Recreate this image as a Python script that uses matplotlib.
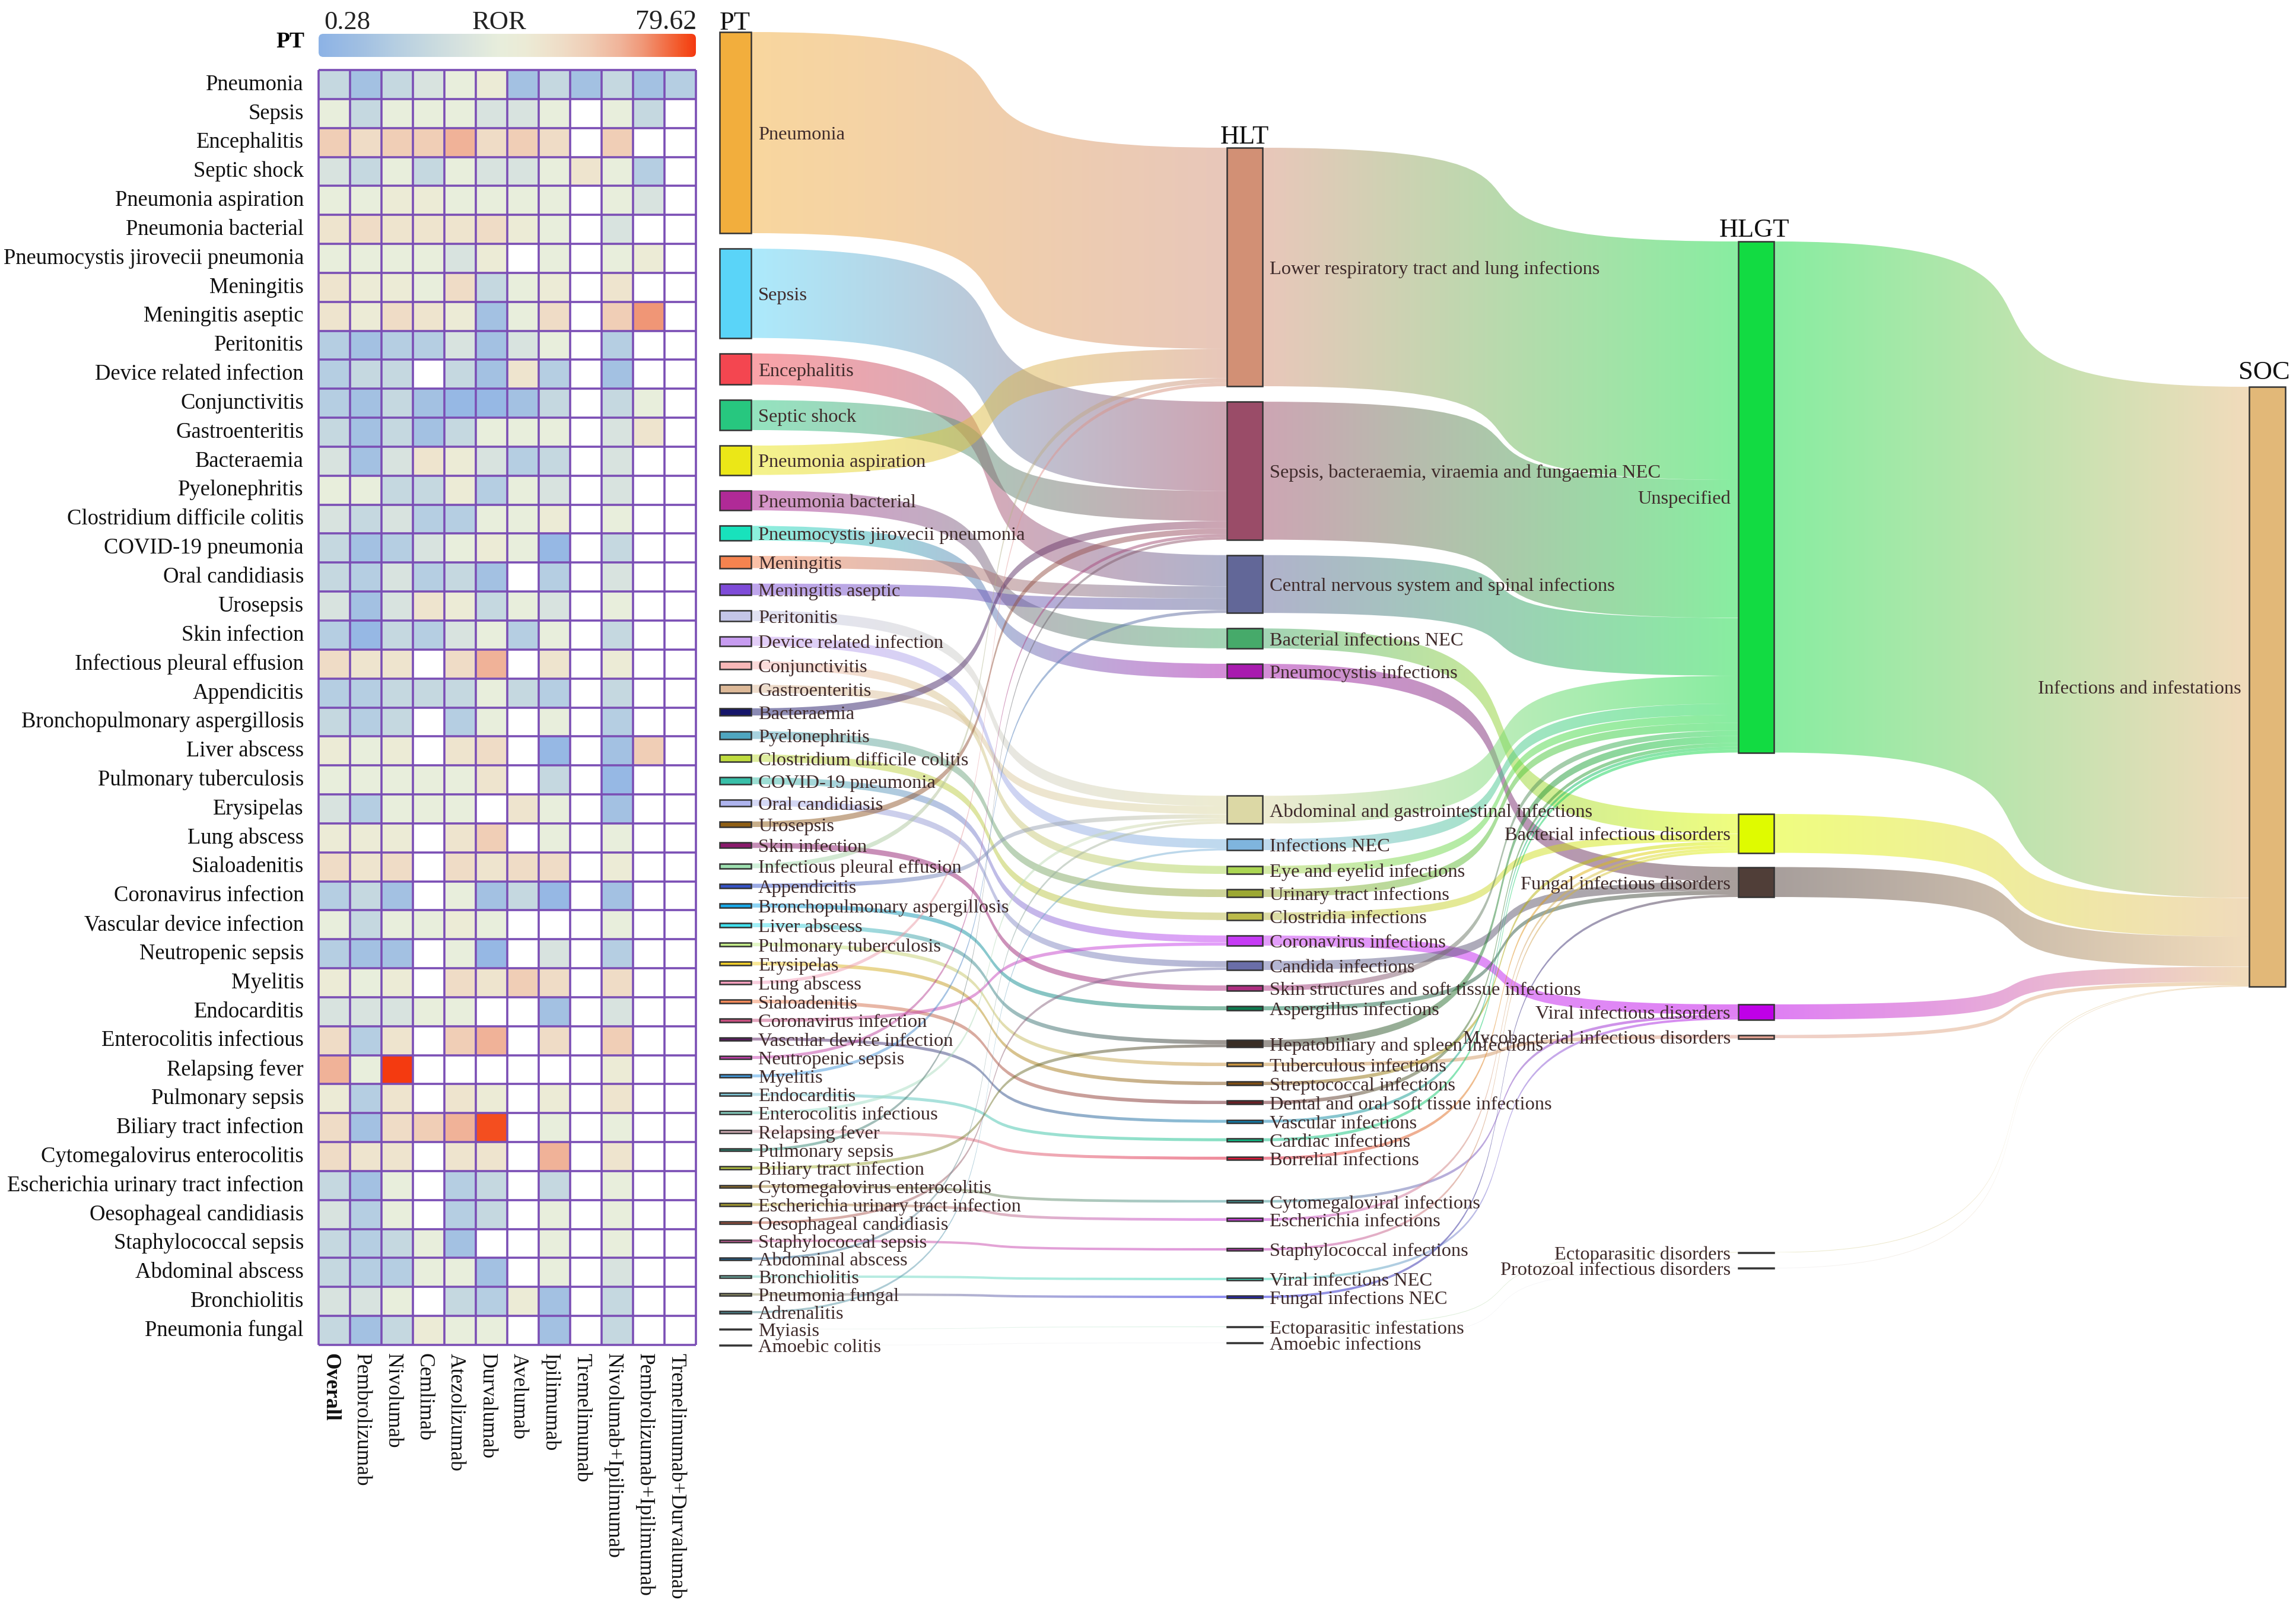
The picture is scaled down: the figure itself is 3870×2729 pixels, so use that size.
import numpy as np
import matplotlib
matplotlib.use("Agg")
import matplotlib.pyplot as plt
from matplotlib.colors import LinearSegmentedColormap, LogNorm, to_rgb
from matplotlib.path import Path
from matplotlib.patches import PathPatch, Rectangle, FancyBboxPatch
from matplotlib.transforms import ScaledTranslation

plt.rcParams['font.family'] = ['Liberation Serif', 'DejaVu Serif']

N = np.nan
W, H = 3870, 2729

drugs = ["Overall", "Pembrolizumab", "Nivolumab", "Cemlimab", "Atezolizumab", "Durvalumab", "Avelumab",
         "Ipilimumab", "Tremelimumab", "Nivolumab+Ipilimumab", "Pembrolizumab+Ipilimumab", "Tremelimumab+Durvalumab"]

pt_names = ["Pneumonia", "Sepsis", "Encephalitis", "Septic shock", "Pneumonia aspiration", "Pneumonia bacterial",
            "Pneumocystis jirovecii pneumonia", "Meningitis", "Meningitis aseptic", "Peritonitis",
            "Device related infection", "Conjunctivitis", "Gastroenteritis", "Bacteraemia", "Pyelonephritis",
            "Clostridium difficile colitis", "COVID-19 pneumonia", "Oral candidiasis", "Urosepsis", "Skin infection",
            "Infectious pleural effusion", "Appendicitis", "Bronchopulmonary aspergillosis", "Liver abscess",
            "Pulmonary tuberculosis", "Erysipelas", "Lung abscess", "Sialoadenitis", "Coronavirus infection",
            "Vascular device infection", "Neutropenic sepsis", "Myelitis", "Endocarditis", "Enterocolitis infectious",
            "Relapsing fever", "Pulmonary sepsis", "Biliary tract infection", "Cytomegalovirus enterocolitis",
            "Escherichia urinary tract infection", "Oesophageal candidiasis", "Staphylococcal sepsis",
            "Abdominal abscess", "Bronchiolitis", "Pneumonia fungal", "Adrenalitis", "Myiasis", "Amoebic colitis"]

# ROR by PT (rows) and regimen (columns), nan = no signal
heat_rows = pt_names[:44]
ror = [
    [1.4, .55, 1.4, 2.4, 4.2, 6.3, .55, 1.4, .55, 1.4, .55, .87],
    [4.2, 1.4, 4.2, 4.2, 4.2, 2.4, 2.4, 4.2, N, 4.2, 1.4, N],
    [16, 11, 16, 16, 26, 11, 16, 11, N, 16, N, N],
    [2.4, 1.4, 4.2, 1.4, 4.2, 2.4, 2.4, 4.2, 8.3, 4.2, .87, N],
    [4.2, 4.2, 6.3, 6.3, 4.2, 4.2, 4.2, 4.2, N, 4.2, 2.4, N],
    [8.3, 11, 8.3, 8.3, 8.3, 11, 6.3, 4.2, N, 2.4, N, N],
    [4.2, 4.2, 4.2, 4.2, 2.4, 6.3, N, 4.2, N, 4.2, 6.3, N],
    [8.3, 6.3, 6.3, 4.2, 11, 1.4, 4.2, 6.3, N, 8.3, N, N],
    [8.3, 6.3, 11, 8.3, 6.3, .55, 4.2, 11, N, 16, 36, N],
    [.87, .55, .87, .87, 2.4, .55, 2.4, 4.2, N, .87, N, N],
    [.87, 1.4, 1.4, N, 1.4, .55, 8.3, .87, N, .55, N, N],
    [.87, .55, 1.4, .55, .37, .37, .55, 1.4, N, 1.4, 4.2, N],
    [1.4, .55, 1.4, .55, 1.4, 4.2, 4.2, 4.2, N, 2.4, 8.3, N],
    [2.4, .55, 2.4, 8.3, 6.3, 2.4, .87, 1.4, N, 2.4, N, N],
    [4.2, 4.2, 1.4, 1.4, 6.3, .87, 4.2, 2.4, N, 2.4, N, N],
    [2.4, 1.4, 2.4, .87, .87, 4.2, 4.2, 6.3, N, 4.2, N, N],
    [1.4, .55, .87, 2.4, 4.2, 6.3, 4.2, .37, N, 1.4, N, N],
    [1.4, .87, 2.4, .87, 1.4, .55, N, .87, N, 2.4, N, N],
    [2.4, .55, 2.4, 8.3, 6.3, 1.4, 4.2, 2.4, N, 4.2, N, N],
    [.87, .37, 1.4, .87, 2.4, 4.2, .87, 4.2, N, 1.4, N, N],
    [11, 8.3, 8.3, N, 11, 26, N, 8.3, N, 6.3, N, N],
    [.87, .87, 1.4, 1.4, 1.4, 4.2, 1.4, .87, N, 1.4, N, N],
    [1.4, .87, 1.4, N, .87, 4.2, N, 4.2, N, .87, N, N],
    [6.3, 4.2, 6.3, N, 8.3, 11, N, .37, N, .55, 16, N],
    [4.2, 4.2, 4.2, 4.2, 4.2, 8.3, N, 1.4, N, .37, N, N],
    [2.4, .87, 4.2, 4.2, 4.2, N, 8.3, 4.2, N, .55, N, N],
    [6.3, 6.3, 6.3, N, 8.3, 16, N, 4.2, N, 4.2, N, N],
    [11, 8.3, 11, N, 11, 8.3, 11, 11, N, 6.3, N, N],
    [.87, 1.4, .55, N, 4.2, .55, 1.4, .37, N, .55, N, N],
    [4.2, 1.4, 4.2, 4.2, 6.3, 4.2, N, N, N, 4.2, N, N],
    [.87, .55, .55, N, 4.2, .37, N, 2.4, N, .87, N, N],
    [6.3, 4.2, 6.3, N, 11, 8.3, 16, 11, N, 11, N, N],
    [2.4, 2.4, 2.4, 4.2, 4.2, N, N, .55, N, 2.4, N, N],
    [11, .87, 8.3, N, 16, 26, N, 11, N, 16, N, N],
    [26, 4.2, 80, N, N, N, N, N, N, 6.3, N, N],
    [6.3, .87, 8.3, N, 8.3, 6.3, N, 6.3, N, 8.3, N, N],
    [11, .55, 11, 16, 26, 68, N, 4.2, N, 4.2, N, N],
    [11, 8.3, 8.3, N, 8.3, 8.3, N, 26, N, 8.3, N, N],
    [1.4, .55, 4.2, N, .87, 1.4, N, 1.4, N, 4.2, N, N],
    [2.4, .87, 4.2, N, .87, 1.4, N, 4.2, N, 4.2, N, N],
    [1.4, .87, 1.4, 4.2, .55, N, N, 4.2, N, 4.2, N, N],
    [1.4, .87, .87, 4.2, 4.2, .55, N, 4.2, N, 2.4, N, N],
    [2.4, 2.4, 4.2, N, 1.4, .87, 6.3, .55, N, 1.4, N, N],
    [1.4, .55, 1.4, 6.3, 4.2, 4.2, N, .55, N, 1.4, N, N],
]

# case weight of every PT, and the term it rolls up into
pt_cases = [339, 150.5, 52.5, 50.5, 49.5, 33.5, 24.5, 20.5, 19.5, 17.5, 15.5, 13.5, 13.5, 12.5, 13, 12.5, 11.5, 10.5,
            9.5, 9, 8, 7, 7, 7, 6, 6, 5.5, 6, 5.5, 5, 5, 5, 5, 5, 5, 4.5, 5, 4.5, 4.5, 4.5, 4, 4, 4, 4, 3.5, 1, 1]
pt_to_hlt = [0, 1, 2, 1, 0, 3, 4, 2, 2, 5, 6, 7, 5, 1, 8, 9, 10, 11, 1, 12, 0, 5, 13, 14, 15, 16, 0, 17, 10, 18, 1, 2,
             19, 5, 20, 1, 14, 21, 22, 11, 23, 5, 24, 25, 6, 26, 27]

hlt_names = ["Lower respiratory tract and lung infections", "Sepsis, bacteraemia, viraemia and fungaemia NEC",
             "Central nervous system and spinal infections", "Bacterial infections NEC", "Pneumocystis infections",
             "Abdominal and gastrointestinal infections", "Infections NEC", "Eye and eyelid infections",
             "Urinary tract infections", "Clostridia infections", "Coronavirus infections", "Candida infections",
             "Skin structures and soft tissue infections", "Aspergillus infections", "Hepatobiliary and spleen infections",
             "Tuberculous infections", "Streptococcal infections", "Dental and oral soft tissue infections",
             "Vascular infections", "Cardiac infections", "Borrelial infections", "Cytomegaloviral infections",
             "Escherichia infections", "Staphylococcal infections", "Viral infections NEC", "Fungal infections NEC",
             "Ectoparasitic infestations", "Amoebic infections"]
hlt_to_hlgt = [0, 0, 0, 1, 2, 0, 0, 0, 0, 1, 3, 2, 0, 2, 0, 4, 1, 0, 0, 0, 1, 3, 1, 1, 3, 2, 5, 6]

hlgt_names = ["Unspecified", "Bacterial infectious disorders", "Fungal infectious disorders", "Viral infectious disorders",
              "Mycobacterial infectious disorders", "Ectoparasitic disorders", "Protozoal infectious disorders"]
soc_names = ["Infections and infestations"]

pt_colors = ["#F2AE3D", "#5AD4F8", "#F44650", "#27C77F", "#EBE717", "#B02A97", "#18E2BC", "#F5834F", "#7E4BD8", "#C4C6E8",
             "#C79CF0", "#F8B8B8", "#DDB998", "#15156A", "#4FA6C0", "#BFDC3F", "#38BFA8", "#AEB4EE", "#8F5F15", "#8A1A6C",
             "#9DE0B0", "#3553C8", "#18A8E8", "#40E0EE", "#C5EE8A", "#F2CF2A", "#F59FBE", "#F58A5A", "#C84F7F", "#5A1A60",
             "#C840B0", "#40A0E8", "#7FC8D8", "#8FE0D0", "#E0B8C0", "#2A8F78", "#B8C840", "#A07A28", "#B0A530", "#C05A40",
             "#D060A0", "#206090", "#80D8C8", "#A0A070", "#4F8F98", "#F0F2F0", "#F0F0F2"]
hlt_colors = ["#D29075", "#9A4C68", "#626798", "#46AA6A", "#A81BAF", "#DCD8A5", "#7FB5DE", "#ABD653", "#9CA833", "#BBBA4B",
              "#C63BF5", "#6A6EA8", "#AD2E80", "#0E7A4F", "#3A2E25", "#C89440", "#7F4F14", "#6A1F25", "#1080B0", "#10C088",
              "#E01838", "#409898", "#C838D8", "#C030B8", "#40D8B8", "#2020E0", "#A8E0C0", "#ECECF0"]
hlgt_colors = ["#12DB42", "#DFFB00", "#503E38", "#BF00E8", "#E0A090", "#D8D8A0", "#ECECF0"]
soc_colors = ["#E2B878"]

# vertical spacing of the columns, in pixels
pt_top, pt_gap = 54, 26.15
hlt_top, hlt_gap = 249, {4: 198, 13: 50, 20: 68, 22: 46, 23: 46, 25: 48}
hlgt_top, hlgt_gaps = 407, [103.5, 24, 181, 26, 360, 25.5]
soc_top = 652
default_gap = 26.1


def fig_axes(fig, x0, y0, x1, y1):
    return fig.add_axes([x0 / W, 1 - y1 / H, (x1 - x0) / W, (y1 - y0) / H])


def shift_labels(fig, labels, dx, dy):
    # dx, dy in pixels, dy positive goes down
    offset = ScaledTranslation(dx / fig.dpi, -dy / fig.dpi, fig.dpi_scale_trans)
    for label in labels:
        label.set_transform(label.get_transform() + offset)


def draw_heatmap(fig, cmap, norm):
    ax = fig_axes(fig, 537, 118, 1173, 2267)
    values = np.ma.masked_invalid(np.array(ror, dtype=float))
    ax.pcolormesh(np.arange(13), np.arange(45), values, cmap=cmap, norm=norm)
    ax.set_xlim(0, 12)
    ax.set_ylim(44, 0)
    ax.hlines(np.arange(45), 0, 12, color="#7B4FB5", lw=2.6, clip_on=False)
    ax.vlines(np.arange(13), 0, 44, color="#7B4FB5", lw=2.6, clip_on=False)
    for s in ax.spines.values():
        s.set_visible(False)
    ax.set_yticks(np.arange(44) + .5, heat_rows, fontsize=26.4, color="#111111")
    ax.set_xticks(np.arange(12) + .5, drugs, fontsize=25.6, rotation=-90, color="#111111")
    ax.tick_params(axis="y", length=0, pad=18)
    ax.tick_params(axis="x", length=0, pad=10)
    ax.get_xticklabels()[0].set_fontweight("bold")
    shift_labels(fig, ax.get_yticklabels(), 0, -4)
    shift_labels(fig, ax.get_xticklabels(), -7, 0)

    cax = fig_axes(fig, 537, 57, 1173, 96)
    grad = np.linspace(0, 1, 512).reshape(1, -1)
    im = cax.imshow(grad, cmap=cmap, aspect="auto", extent=[0, 636, 39, 0])
    box = FancyBboxPatch((4, 4), 628, 31, boxstyle="round,pad=4,rounding_size=8", transform=cax.transData, fc="none", ec="none")
    cax.add_patch(box)
    im.set_clip_path(box)
    cax.axis("off")
    fig.text(585 / W, 1 - 38 / H, "0.28", fontsize=32, ha="center", va="center", color="#222222")
    fig.text(842 / W, 1 - 38 / H, "ROR", fontsize=32, ha="center", va="center", color="#222222")
    fig.text(1123 / W, 1 - 38 / H, "79.62", fontsize=33, ha="center", va="center", color="#222222")
    fig.text(513 / W, 1 - 70 / H, "PT", fontsize=27, ha="right", va="center", fontweight="bold")


def ribbon(ax, x0, x1, y0, y1, h, c0, c1, alpha=.5, bend=.85):
    w = x1 - x0
    verts = [(x0, y0), (x0 + bend * w, y0), (x1 - bend * w, y1), (x1, y1), (x1, y1 + h),
             (x1 - bend * w, y1 + h), (x0 + bend * w, y0 + h), (x0, y0 + h), (x0, y0)]
    codes = [Path.MOVETO, Path.CURVE4, Path.CURVE4, Path.CURVE4, Path.LINETO,
             Path.CURVE4, Path.CURVE4, Path.CURVE4, Path.CLOSEPOLY]
    patch = PathPatch(Path(verts, codes), fc="none", ec="none", transform=ax.transData)
    ax.add_patch(patch)
    t = np.linspace(0, 1, 48)[:, None]
    rgb = (1 - t) * np.array(to_rgb(c0)) + t * np.array(to_rgb(c1))
    rgba = np.dstack([rgb[None, :, :], np.full((1, 48), alpha)])
    top, bottom = min(y0, y1), max(y0, y1) + h
    im = ax.imshow(rgba, extent=[x0, x1, bottom, top], aspect="auto", interpolation="bilinear", zorder=1)
    im.set_clip_path(patch)


def stack_tops(sizes, start, gaps):
    tops = []
    y = start
    for i, s in enumerate(sizes):
        tops.append(y)
        y += s + gaps[i]
    return tops


def draw_column(ax, names, sizes, tops, colors, x0, x1, label_side):
    for name, s, y, c in zip(names, sizes, tops, colors):
        ax.add_patch(Rectangle((x0, y), x1 - x0, s, fc=c, ec="#333333", lw=1.8, zorder=3))
        # labels sit a little under the node centre
        if label_side == "right":
            ax.text(x1 + 12, y + s / 2 + 4, name, fontsize=23.4, color="#3F2B2B", va="center", ha="left", zorder=4)
        else:
            ax.text(x0 - 13, y + s / 2 + 4, name, fontsize=23.4, color="#3F2B2B", va="center", ha="right", zorder=4)


def draw_flows(ax, sizes, tops, colors, x0, x1, targets, t_tops, t_colors):
    filled = [0.0] * len(t_tops)
    for i, s in enumerate(sizes):
        t = targets[i]
        ribbon(ax, x0, x1, tops[i], t_tops[t] + filled[t], s, colors[i], t_colors[t])
        filled[t] += s


def draw_sankey(fig):
    ax = fig.add_axes([0, 0, 1, 1])
    ax.patch.set_alpha(0)

    hlt_sizes = [sum(c for c, t in zip(pt_cases, pt_to_hlt) if t == k) for k in range(len(hlt_names))]
    hlgt_sizes = [sum(c for c, t in zip(hlt_sizes, hlt_to_hlgt) if t == k) for k in range(len(hlgt_names))]
    soc_sizes = [sum(hlgt_sizes)]

    pt_tops = stack_tops(pt_cases, pt_top, [pt_gap] * len(pt_cases))
    hlt_tops = stack_tops(hlt_sizes, hlt_top, [hlt_gap.get(i, default_gap) for i in range(len(hlt_sizes))])
    hlgt_tops = stack_tops(hlgt_sizes, hlgt_top, hlgt_gaps + [0])

    pt_x, hlt_x, hlgt_x, soc_x = (1213, 1266), (2068, 2128), (2930, 2990), (3791, 3852)
    draw_flows(ax, pt_cases, pt_tops, pt_colors, pt_x[1], hlt_x[0], pt_to_hlt, hlt_tops, hlt_colors)
    draw_flows(ax, hlt_sizes, hlt_tops, hlt_colors, hlt_x[1], hlgt_x[0], hlt_to_hlgt, hlgt_tops, hlgt_colors)
    draw_flows(ax, hlgt_sizes, hlgt_tops, hlgt_colors, hlgt_x[1], soc_x[0], [0] * 7, [soc_top], soc_colors)

    draw_column(ax, pt_names, pt_cases, pt_tops, pt_colors, pt_x[0], pt_x[1], "right")
    draw_column(ax, hlt_names, hlt_sizes, hlt_tops, hlt_colors, hlt_x[0], hlt_x[1], "right")
    draw_column(ax, hlgt_names, hlgt_sizes, hlgt_tops, hlgt_colors, hlgt_x[0], hlgt_x[1], "left")
    draw_column(ax, soc_names, soc_sizes, [soc_top], soc_colors, soc_x[0], soc_x[1], "left")

    for label, x, y in [("PT", 1239, 39), ("HLT", 2098, 231), ("HLGT", 2957, 388), ("SOC", 3816, 628)]:
        ax.text(x, y, label, fontsize=32, ha="center", va="center", color="#111111", zorder=4)

    ax.set_xlim(0, W)
    ax.set_ylim(H, 0)
    ax.axis("off")


def main():
    fig = plt.figure(figsize=(W / 100, H / 100), dpi=100, facecolor="white")
    stops = [(0, "#8DB3E6"), (.12, "#A3C1E2"), (.2, "#B5CEE2"), (.28, "#C5D8E0"), (.38, "#D8E3DF"), (.48, "#E8EEDC"),
             (.55, "#ECEBD6"), (.6, "#EEE4CE"), (.65, "#EFDCC6"), (.72, "#F0CDB5"), (.8, "#F0B49A"), (.86, "#F09878"),
             (.97, "#F45020"), (1, "#F43A10")]
    cmap = LinearSegmentedColormap.from_list("ror", stops)
    norm = LogNorm(vmin=.28, vmax=79.62)
    draw_sankey(fig)
    draw_heatmap(fig, cmap, norm)
    fig.savefig("out.png", dpi=100)
    plt.close(fig)


if __name__ == "__main__":
    main()
